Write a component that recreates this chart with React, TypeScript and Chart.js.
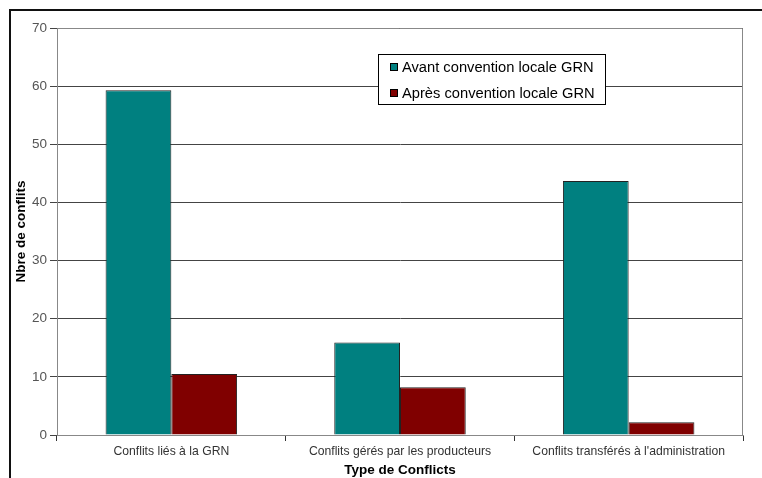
import React, { useEffect, useRef } from "react";
import { Chart, registerables } from "chart.js";

Chart.register(...registerables);

const categories = [
  "Conflits liés à la GRN",
  "Conflits gérés par les producteurs",
  "Conflits transférés à l'administration",
];
const avantLabel = "Avant convention locale GRN";
const apresLabel = "Après convention locale GRN";
const avantValues = [59.3, 15.9, 43.7];
const apresValues = [10.5, 8.2, 2.2];
const yTitle = "Nbre de conflits";
const xTitle = "Type de Conflicts";
const yMin = 0;
const yMax = 70;
const yStep = 10;

const TEAL = "#008080";
const MAROON = "#800000";
const FONT = "'Liberation Sans', Arial, sans-serif";

const decorPlugin = {
  id: "decor",
  afterDraw(chart: any) {
    const { ctx, chartArea } = chart;
    const { left, right, top, bottom } = chartArea;
    ctx.save();
    // plot border (top & right)
    ctx.strokeStyle = "#888";
    ctx.lineWidth = 1;
    ctx.beginPath();
    ctx.moveTo(left, top + 0.5);
    ctx.lineTo(right - 0.5, top + 0.5);
    ctx.lineTo(right - 0.5, bottom);
    ctx.stroke();

    // axis titles
    ctx.fillStyle = "#000";
    ctx.font = `bold 13.5px ${FONT}`;
    ctx.textAlign = "center";
    ctx.textBaseline = "middle";
    ctx.save();
    ctx.translate(21, (top + bottom) / 2);
    ctx.rotate(-Math.PI / 2);
    ctx.fillText(yTitle, 0, 0);
    ctx.restore();
    ctx.fillText(xTitle, (left + right) / 2, 470);

    // legend box
    const lx = 378, ly = 54, lw = 228, lh = 51;
    ctx.fillStyle = "#fff";
    ctx.fillRect(lx, ly, lw, lh);
    ctx.strokeStyle = "#000";
    ctx.strokeRect(lx + 0.5, ly + 0.5, lw - 1, lh - 1);
    const items = [
      { label: chart.data.datasets[0].label, color: TEAL, y: 67 },
      { label: chart.data.datasets[1].label, color: MAROON, y: 93 },
    ];
    ctx.font = `14.7px ${FONT}`;
    ctx.textAlign = "left";
    for (const it of items) {
      ctx.fillStyle = it.color;
      ctx.fillRect(390, it.y - 4, 8, 8);
      ctx.strokeStyle = "#000";
      ctx.strokeRect(390.5, it.y - 3.5, 7, 7);
      ctx.fillStyle = "#000";
      ctx.fillText(it.label, 402, it.y + 1);
    }
    ctx.restore();
  },
};

export default function App() {
  const canvasRef = useRef<HTMLCanvasElement | null>(null);

  useEffect(() => {
    if (!canvasRef.current) return;
    const chart = new Chart(canvasRef.current, {
      type: "bar",
      data: {
        labels: categories,
        datasets: [
          {
            label: avantLabel,
            data: avantValues,
            backgroundColor: TEAL,
            borderColor: "#222",
            borderWidth: 1,
            categoryPercentage: 0.575,
            barPercentage: 1,
          },
          {
            label: apresLabel,
            data: apresValues,
            backgroundColor: MAROON,
            borderColor: "#222",
            borderWidth: 1,
            categoryPercentage: 0.575,
            barPercentage: 1,
          },
        ],
      },
      options: {
        animation: false,
        responsive: false,
        maintainAspectRatio: false,
        devicePixelRatio: 1,
        layout: { padding: { left: 0, top: 28, right: 19, bottom: 0 } },
        plugins: {
          legend: { display: false },
          tooltip: { enabled: false },
          title: { display: false },
        },
        scales: {
          x: {
            offset: true,
            grid: {
              offset: true,
              drawOnChartArea: false,
              drawTicks: true,
              tickLength: 6,
              color: "#333",
            },
            border: { display: true, color: "#888", width: 1 },
            ticks: {
              color: "#333",
              font: { family: FONT, size: 12.2 },
              padding: 3,
              maxRotation: 0,
              autoSkip: false,
            },
            afterFit(scale: any) {
              scale.height = 43;
            },
          },
          y: {
            min: yMin,
            max: yMax,
            ticks: {
              stepSize: yStep,
              color: "#555",
              font: { family: FONT, size: 13.5 },
              padding: 3,
            },
            grid: {
              color: "#444",
              lineWidth: 1,
              tickLength: 7,
              drawTicks: true,
            },
            border: { display: true, color: "#888", width: 1 },
            afterFit(scale: any) {
              scale.width = 57;
            },
          },
        },
      },
      plugins: [decorPlugin],
    });
    return () => chart.destroy();
  }, []);

  return (
    <div
      style={{
        position: "fixed",
        left: 0,
        top: 0,
        width: 762,
        height: 478,
        background: "#fff",
        overflow: "hidden",
      }}
    >
      <div
        style={{
          position: "absolute",
          left: 9,
          top: 9,
          width: 800,
          height: 500,
          borderTop: "2px solid #111",
          borderLeft: "2px solid #111",
        }}
      />
      <canvas
        ref={canvasRef}
        width={762}
        height={478}
        style={{ position: "absolute", left: 0, top: 0, width: 762, height: 478 }}
      />
    </div>
  );
}
